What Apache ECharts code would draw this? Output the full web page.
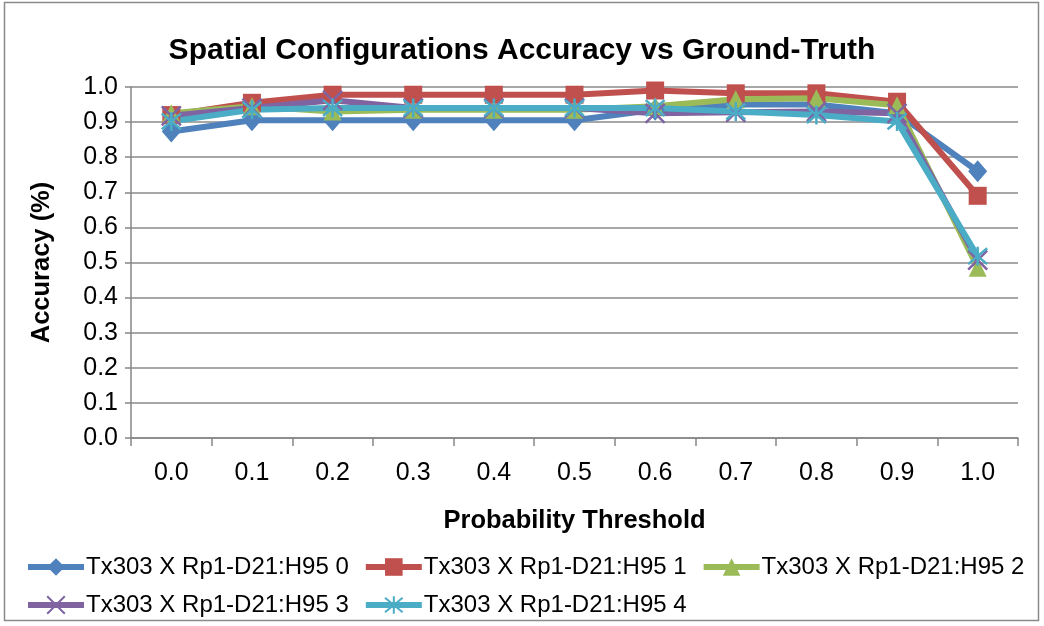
<!DOCTYPE html>
<html><head><meta charset="utf-8">
<script src="https://cdn.jsdelivr.net/npm/echarts@6/dist/echarts.min.js"></script>
<style>html,body{margin:0;padding:0;background:#fff}#c{width:1044px;height:626px}</style>
</head><body><div id="c"></div>
<script>
const categories = ['0.0','0.1','0.2','0.3','0.4','0.5','0.6','0.7','0.8','0.9','1.0'];
const seriesNames = ['Tx303 X Rp1-D21:H95 0','Tx303 X Rp1-D21:H95 1','Tx303 X Rp1-D21:H95 2','Tx303 X Rp1-D21:H95 3','Tx303 X Rp1-D21:H95 4'];
const s0 = [0.873,0.905,0.905,0.905,0.905,0.905,0.935,0.950,0.950,0.925,0.760];
const s1 = [0.920,0.955,0.978,0.978,0.978,0.978,0.990,0.982,0.982,0.958,0.690];
const s2 = [0.925,0.945,0.930,0.935,0.935,0.935,0.945,0.965,0.968,0.948,0.485];
const s3 = [0.918,0.940,0.962,0.940,0.940,0.940,0.925,0.928,0.930,0.925,0.507];
const s4 = [0.902,0.935,0.940,0.940,0.940,0.940,0.940,0.930,0.920,0.902,0.518];
const yTicks = [0,0.1,0.2,0.3,0.4,0.5,0.6,0.7,0.8,0.9,1.0];

const colors = ['#4F81BD','#C0504D','#9BBB59','#8064A2','#4BACC6'];
const symbols = ['diamond','rect','triangle','path://M0,0L10,10M10,0L0,10','path://M0,0L10,10M10,0L0,10M5,-1L5,11'];
const sizes = [[19,22],18,18,19,19];
const FONT = '"Liberation Sans",Arial,sans-serif';
const allData = [s0,s1,s2,s3,s4];

const chart = echarts.init(document.getElementById('c'), null, {renderer:'canvas'});
const series = allData.map((d,i)=>({
  name: seriesNames[i], type:'line', data:d,
  symbol: symbols[i], symbolSize: sizes[i], showAllSymbol:true,
  lineStyle:{color:colors[i], width:6},
  itemStyle:{color: i>=3 ? 'rgba(0,0,0,0)' : colors[i], borderColor:colors[i], borderWidth: i>=3 ? 2.5 : 0},
  emphasis:{disabled:true}, animation:false
}));
const legendCommon = {left:25, width:1040, padding:0, itemWidth:56, itemHeight:22, itemGap:14,
  lineStyle:{width:6},
  textStyle:{fontFamily:FONT, fontSize:24, color:'#000', padding:[0,0,0,-3]}};
chart.setOption({
  animation:false,
  textStyle:{fontFamily:FONT},
  graphic:[{type:'rect', shape:{x:4.5,y:2.5,width:1034,height:618}, style:{fill:'none', stroke:'#8a8a8a', lineWidth:1.5}, silent:true}],
  title:{text:'Spatial Configurations Accuracy vs Ground-Truth', left:'center', top:31,
    textStyle:{fontFamily:FONT, fontWeight:'bold', fontSize:30, color:'#000'}},
  grid:{left:131, right:26, top:87, bottom:188, containLabel:false},
  xAxis:{type:'category', data:categories, boundaryGap:true,
    name:'Probability Threshold', nameLocation:'middle', nameGap:70,
    nameTextStyle:{fontFamily:FONT, fontWeight:'bold', fontSize:25.5, color:'#000'},
    axisLine:{lineStyle:{color:'#868686', width:1.5}},
    axisTick:{show:true, length:8, interval:0, lineStyle:{color:'#868686', width:1.5}},
    axisLabel:{fontFamily:FONT, fontSize:25, color:'#000', margin:23, interval:0}},
  yAxis:{type:'value', min:0, max:1, interval:0.1,
    name:'Accuracy (%)', nameLocation:'middle', nameGap:76,
    nameTextStyle:{fontFamily:FONT, fontWeight:'bold', fontSize:25.5, color:'#000'},
    axisLine:{show:true, lineStyle:{color:'#868686', width:1.5}},
    axisTick:{show:true, length:6, lineStyle:{color:'#868686', width:1.5}},
    splitLine:{show:true, lineStyle:{color:'#8a8a8a', width:1.5}},
    axisLabel:{fontFamily:FONT, fontSize:25, color:'#000', margin:13,
      formatter:(v)=>{ const t = yTicks.find(x=>Math.abs(x-v)<1e-9); return (t!==undefined?t:v).toFixed(1);} }},
  legend:[
    Object.assign({data:seriesNames.slice(0,3), top:555}, legendCommon),
    Object.assign({data:seriesNames.slice(3), top:593}, legendCommon)
  ],
  series: series
});
</script></body></html>
